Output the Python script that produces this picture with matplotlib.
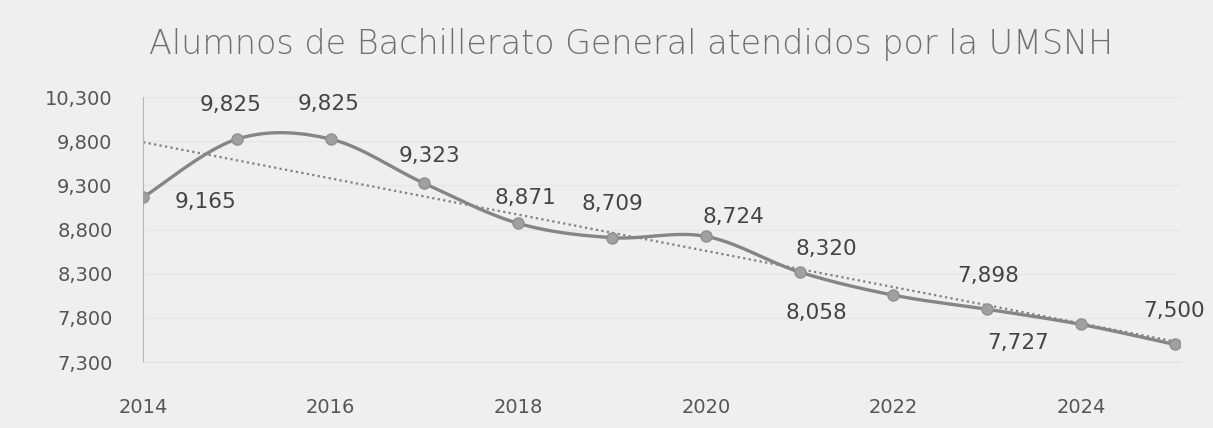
import numpy as np
import matplotlib.pyplot as plt
from matplotlib.ticker import FuncFormatter

# datos
anios = [2014, 2015, 2016, 2017, 2018, 2019, 2020, 2021, 2022, 2023, 2024, 2025]
alumnos = [9165, 9825, 9825, 9323, 8871, 8709, 8724, 8320, 8058, 7898, 7727, 7500]
etiquetas_x = [2014, 2016, 2018, 2020, 2022, 2024]
etiquetas_y = [7300, 7800, 8300, 8800, 9300, 9800, 10300]

# desplazamiento de cada etiqueta de dato (pixeles)
desp = [(62, -5), (-6, 34), (-2, 35), (5, 27), (7, 25), (0, 34),
        (28, 19), (27, 23), (-77, -18), (1, 33), (-63, -19), (-1, 33)]


def suavizar(x, y, n=30):
    # curva suavizada tipo Excel (Catmull-Rom)
    x = np.asarray(x, float)
    y = np.asarray(y, float)
    px = np.concatenate([[x[0]], x, [x[-1]]])
    py = np.concatenate([[y[0]], y, [y[-1]]])
    xs, ys = [], []
    t = np.linspace(0, 1, n)
    for i in range(1, len(px) - 2):
        p0, p1, p2, p3 = [np.array([px[j], py[j]]) for j in range(i - 1, i + 3)]
        c1 = p1 + (p2 - p0) / 6
        c2 = p2 - (p3 - p1) / 6
        pts = ((1 - t) ** 3)[:, None] * p1 + (3 * (1 - t) ** 2 * t)[:, None] * c1 \
            + (3 * (1 - t) * t ** 2)[:, None] * c2 + (t ** 3)[:, None] * p2
        xs.extend(pts[:, 0])
        ys.extend(pts[:, 1])
    return xs, ys


fondo = '#efefef'
fig = plt.figure(figsize=(12.13, 4.28), dpi=100, facecolor=fondo)
ax = fig.add_axes([0.118, 0.154, 0.855, 0.619], facecolor=fondo)

xs, ys = suavizar(anios, alumnos)
ax.plot(xs, ys, color='#858585', linewidth=2.4, zorder=3)
ax.plot(anios, alumnos, linestyle='none', marker='o', markersize=8,
        markerfacecolor='#a0a0a0', markeredgecolor='#909090', zorder=4)

# linea de tendencia
m, b = np.polyfit(anios, alumnos, 1)
ax.plot([anios[0], anios[-1]], [m * anios[0] + b, m * anios[-1] + b],
        linestyle=(0, (1, 1.5)), color='#808080', linewidth=1.6, zorder=2)

for x, y, d in zip(anios, alumnos, desp):
    ax.annotate(f'{y:,}', (x, y), xytext=d, textcoords='offset pixels',
                ha='center', va='center', fontsize=15.5, color='#444444')

ax.set_xlim(2014, 2025.06)
ax.set_ylim(7300, 10300)
ax.set_xticks(etiquetas_x)
ax.set_yticks(etiquetas_y)
ax.yaxis.set_major_formatter(FuncFormatter(lambda v, p: f'{int(v):,}'))
ax.tick_params(axis='both', length=0, labelsize=14, labelcolor='#555555')
ax.tick_params(axis='y', pad=22)
ax.tick_params(axis='x', pad=26)
ax.grid(axis='y', color='#e6e6e6', linewidth=1)
for lado in ['top', 'right']:
    ax.spines[lado].set_visible(False)
ax.spines['left'].set_color('#b5b5b5')
ax.spines['bottom'].set_color('#e2e2e2')

fig.text(0.52, 0.895, 'Alumnos de Bachillerato General atendidos por la UMSNH',
         ha='center', va='center', fontsize=24, color='#707070',
         fontweight='light')

fig.savefig('out.png', dpi=100, facecolor=fondo)
